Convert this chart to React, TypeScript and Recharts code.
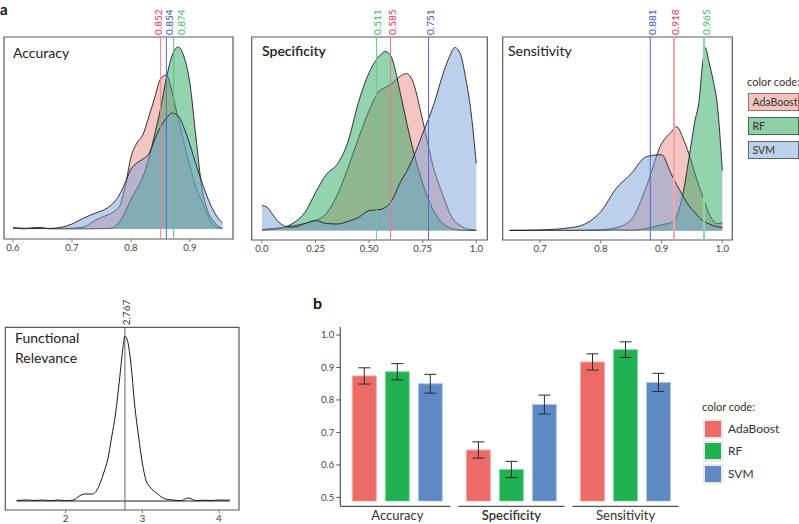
import React from "react";
import {
  AreaChart,
  Area,
  ComposedChart,
  Line,
  BarChart,
  Bar,
  ErrorBar,
  XAxis,
  YAxis,
  ReferenceLine,
  ReferenceArea,
} from "recharts";

const FONT = "Lato, 'Open Sans', sans-serif";
const W = 799;
const H = 524;

// ---- panel a: Accuracy density (arbitrary density units)
const accX = [0.6, 0.62, 0.64, 0.65, 0.66, 0.68, 0.7, 0.72, 0.74, 0.76, 0.77, 0.78, 0.79, 0.8, 0.81, 0.82, 0.83, 0.84, 0.85, 0.86, 0.87, 0.88, 0.89, 0.9, 0.91, 0.92, 0.93, 0.94, 0.95, 0.955];
const accAda = [0.5, 0.4, 0.5, 0.4, 0.5, 0.6, 0.8, 2, 9, 14, 17, 22, 42, 72, 86, 94, 112, 131, 150, 154, 136, 110, 86, 63, 42, 28, 14, 4, 1, 0.5];
const accRf = [0.8, 0.3, 1.5, 1.2, 0.3, 0.2, 0.2, 0.2, 0.3, 0.5, 1.5, 7, 17, 30, 40, 52, 70, 94, 120, 151, 174, 182, 172, 145, 92, 42, 18, 8, 2, 1];
const accSvm = [1.2, 0.8, 0.6, 1, 0.5, 1.5, 5, 11, 16, 21, 26, 34, 46, 60, 66, 70, 75, 89, 102, 111, 116, 113, 101, 84, 65, 47, 31, 18, 9, 6];

// ---- panel a: Specificity density
const specX = [0, 0.025, 0.05, 0.075, 0.1, 0.125, 0.15, 0.2, 0.25, 0.3, 0.35, 0.4, 0.45, 0.5, 0.55, 0.575, 0.6, 0.65, 0.675, 0.7, 0.75, 0.8, 0.85, 0.875, 0.9, 0.925, 0.95, 0.975, 1.0];
const specAda = [1, 1.5, 2, 2.5, 3, 4, 5, 7, 10, 17, 35, 62, 92, 120, 140, 143, 146, 155, 157, 151, 110, 63, 32, 18, 9, 5, 2, 1, 0.5];
const specRf = [0.5, 0.7, 1, 2, 3, 5, 8, 18, 38, 56, 66, 88, 128, 158, 175, 179, 175, 133, 108, 85, 47, 20, 6, 3, 1, 0.5, 0.2, 0.1, 0];
const specSvm = [25, 23, 16, 9, 5, 3.5, 3.5, 7, 10, 7, 6.5, 9, 13, 20, 21, 23, 28, 50, 59, 70, 97, 125, 160, 174, 183, 177, 153, 119, 67];

// ---- panel a: Sensitivity density
const sensX = [0.65, 0.7, 0.75, 0.775, 0.8, 0.825, 0.85, 0.875, 0.9, 0.915, 0.925, 0.935, 0.945, 0.955, 0.962, 0.967, 0.972, 0.978, 0.985, 0.992, 1.0];
const sensAda = [0.3, 0.3, 0.5, 0.7, 1, 3, 11, 44, 87, 98, 104, 93, 77, 57, 44, 36, 27, 17, 10, 7, 8];
const sensRf = [0.3, 0.2, 0.2, 0.3, 0.3, 1, 0.5, 2, 6, 8, 15, 36, 72, 110, 131, 164, 183, 169, 150, 125, 60];
const sensSvm = [0.3, 0.8, 3, 7, 19, 42, 57, 74, 76, 58, 46, 35, 25, 18, 13, 10.5, 8.5, 7, 5, 4, 3];

// ---- Functional Relevance density
const frX = [1.36, 1.5, 1.6, 1.7, 1.8, 1.9, 2.0, 2.1, 2.2, 2.25, 2.35, 2.4, 2.45, 2.5, 2.55, 2.6, 2.65, 2.7, 2.75, 2.77, 2.8, 2.85, 2.9, 2.95, 3.0, 3.05, 3.1, 3.2, 3.3, 3.4, 3.5, 3.6, 3.7, 3.8, 3.9, 4.0, 4.14];
const frDensity = [0.5, 1, 0.5, 1, 0.3, 1, 0.3, 1, 6, 7, 7, 10, 18, 29, 42, 64, 87, 120, 155, 165, 162, 138, 96, 65, 38, 20, 14, 7, 2, 1, 0.3, 3, 0.3, 0.8, 0.5, 1, 0.8];

// mean markers: drawn position, printed value, label nudge (px)
const accMeans = [
  { pos: 0.8503, text: "0.852", line: "#f08088", color: "#e8335c", dx: 1.5 },
  { pos: 0.8599, text: "0.854", line: "#5a6cc8", color: "#3d4fb0", dx: 6.5 },
  { pos: 0.8724, text: "0.874", line: "#5cc07f", color: "#38b864", dx: 11.5 },
];
const specMeans = [
  { pos: 0.534, text: "0.511", line: "#6cc98a", color: "#38b864", dx: 5 },
  { pos: 0.5996, text: "0.585", line: "#f07880", color: "#e8335c", dx: 5.5 },
  { pos: 0.777, text: "0.751", line: "#5a6cc8", color: "#3d4fb0", dx: 5 },
];
const sensMeans = [
  { pos: 0.8815, text: "0.881", line: "#5064c8", color: "#3d4fb0", w: 1, dx: 5.5 },
  { pos: 0.9205, text: "0.918", line: "#f5a6ab", color: "#e8335c", w: 2, dx: 5.5 },
  { pos: 0.9699, text: "0.965", line: "#8fd6a5", color: "#38b864", w: 2, dx: 5.5 },
];
const frMean = { pos: 2.773, text: "2.767" };

// ---- panel b: bar chart
const metrics = ["Accuracy", "Specificity", "Sensitivity"];
const adaMean = [0.874, 0.646, 0.917];
const rfMean = [0.887, 0.586, 0.955];
const svmMean = [0.85, 0.786, 0.854];
const adaErr = [0.025, 0.025, 0.025];
const rfErr = [0.025, 0.025, 0.024];
const svmErr = [0.029, 0.029, 0.028];
const barTicks = [0.5, 0.6, 0.7, 0.8, 0.9, 1.0];

const models = [
  { key: "ada", name: "AdaBoost", swatch: "#f2c4be", border: "#a06c68", bar: "#ec6b66", barEdge: "#f6aaa6" },
  { key: "rf", name: "RF", swatch: "#8fd0a6", border: "#3f6b4f", bar: "#21b153", barEdge: "#84d9a2" },
  { key: "svm", name: "SVM", swatch: "#bdd1ea", border: "#56657a", bar: "#5f89c4", barEdge: "#b0c6e6" },
];

const areaFill: Record<string, { fill: string; op: number }> = {
  ada: { fill: "#e46e66", op: 0.4 },
  rf: { fill: "#2aa85f", op: 0.5 },
  svm: { fill: "#7aa2d8", op: 0.5 },
};

function MeanLabel(props: any) {
  const { viewBox, text, color, dx } = props;
  if (!viewBox) return null;
  const x = viewBox.x + (dx ?? 5);
  const y = viewBox.y - 2;
  return (
    <text transform={`translate(${x},${y}) rotate(-90)`} fill={color} fontSize={10} fontFamily={FONT}>
      {text}
    </text>
  );
}

type Box = { left: number; right: number; top: number; bottom: number };

function DensityPanel({ rows, box, xDomain, yDomain, ticks, tickLabels, means }: any) {
  const b: Box = box;
  return (
    <div style={{ position: "absolute", left: 0, top: 0 }}>
      <AreaChart
        width={W}
        height={H}
        data={rows}
        margin={{ left: b.left, top: b.top, right: W - b.right, bottom: H - b.bottom - 14 }}
      >
        <XAxis
          type="number"
          dataKey="x"
          domain={xDomain}
          allowDataOverflow
          ticks={ticks}
          interval={0}
          tickFormatter={(v: number, i: number) => tickLabels[i]}
          height={14}
          axisLine={false}
          tickSize={3}
          tickLine={{ stroke: "#777" }}
          tick={{ fontSize: 9.5, fill: "#444", fontFamily: FONT }}
        />
        <YAxis hide type="number" domain={yDomain} allowDataOverflow />
        {["ada", "rf", "svm"].map((k) => (
          <Area
            key={k}
            type="monotone"
            dataKey={k}
            baseValue={0}
            fill={areaFill[k].fill}
            fillOpacity={areaFill[k].op}
            stroke="#1e1e1e"
            strokeWidth={0.9}
            isAnimationActive={false}
          />
        ))}
        {means.map((m: any) => (
          <ReferenceLine
            key={m.text}
            x={m.pos}
            stroke={m.line}
            strokeWidth={m.w || 1}
            label={<MeanLabel text={m.text} color={m.color} dx={m.dx} />}
          />
        ))}
        <ReferenceArea
          x1={xDomain[0]}
          x2={xDomain[1]}
          y1={yDomain[0]}
          y2={yDomain[1]}
          fill="none"
          stroke="#5a5a5a"
          strokeWidth={1.2}
        />
      </AreaChart>
    </div>
  );
}

function GroupTick(props: any) {
  const { x, y, payload, index } = props;
  const left = index === 0 ? x - 57 : x - 53;
  return (
    <g>
      {index === 0 && <line x1={x - 57} x2={x - 57} y1={y - 1} y2={y + 5} stroke="#555" strokeWidth={1.2} />}
      <line x1={left} x2={x + 53} y1={y + 5} y2={y + 5} stroke="#555" strokeWidth={1.2} />
      <text
        x={x}
        y={y + 19}
        textAnchor="middle"
        fontSize={13}
        fill="#333"
        fontFamily={FONT}
        fontWeight={payload.value === "Specificity" ? 600 : 400}
      >
        {payload.value}
      </text>
    </g>
  );
}

const abs = (l: number, t: number, extra: React.CSSProperties = {}): React.CSSProperties => ({
  position: "absolute",
  left: l,
  top: t,
  whiteSpace: "nowrap",
  ...extra,
});

export default function App() {
  const accRows = accX.map((x, i) => ({ x, ada: accAda[i], rf: accRf[i], svm: accSvm[i] }));
  const specRows = specX.map((x, i) => ({ x, ada: specAda[i], rf: specRf[i], svm: specSvm[i] }));
  const sensRows = sensX.map((x, i) => ({ x, ada: sensAda[i], rf: sensRf[i], svm: sensSvm[i] }));
  const frRows = frX.map((x, i) => ({ x, d: frDensity[i] }));
  const barRows = metrics.map((m, i) => ({
    metric: m,
    ada: adaMean[i],
    adaErr: adaErr[i],
    rf: rfMean[i],
    rfErr: rfErr[i],
    svm: svmMean[i],
    svmErr: svmErr[i],
  }));
  const errKey: Record<string, string> = { ada: "adaErr", rf: "rfErr", svm: "svmErr" };

  const frBox = { left: 5.3, right: 239, top: 327.3, bottom: 510 };
  const frXDomain = [1.2125, 4.2608];
  const frYDomain = [-9, 173.7];

  return (
    <div
      style={{
        position: "absolute",
        left: 0,
        top: 0,
        width: W,
        height: H,
        background: "#fff",
        overflow: "hidden",
        fontFamily: FONT,
        color: "#333",
      }}
    >
      <DensityPanel
        rows={accRows}
        box={{ left: 4, right: 233, top: 37, bottom: 239 }}
        xDomain={[0.58475, 0.97288]}
        yDomain={[-10, 192]}
        ticks={[0.6, 0.7, 0.8, 0.9]}
        tickLabels={["0.6", "0.7", "0.8", "0.9"]}
        means={accMeans}
      />
      <DensityPanel
        rows={specRows}
        box={{ left: 251.7, right: 487.3, top: 37, bottom: 240 }}
        xDomain={[-0.0481, 1.0514]}
        yDomain={[-9.5, 193.5]}
        ticks={[0, 0.25, 0.5, 0.75, 1.0]}
        tickLabels={["0.0", "0.25", "0.50", "0.75", "1.0"]}
        means={specMeans}
      />
      <DensityPanel
        rows={sensRows}
        box={{ left: 502.7, right: 732.3, top: 37, bottom: 240 }}
        xDomain={[0.6386, 1.01646]}
        yDomain={[-9.3, 193.7]}
        ticks={[0.7, 0.8, 0.9, 1.0]}
        tickLabels={["0.7", "0.8", "0.9", "1.0"]}
        means={sensMeans}
      />

      <div style={{ position: "absolute", left: 0, top: 0 }}>
        <ComposedChart
          width={W}
          height={H}
          data={frRows}
          margin={{ left: frBox.left, top: frBox.top, right: W - frBox.right, bottom: H - frBox.bottom - 14 }}
        >
          <XAxis
            type="number"
            dataKey="x"
            domain={frXDomain}
            allowDataOverflow
            ticks={[2, 3, 4]}
            interval={0}
            height={14}
            axisLine={false}
            tickSize={3}
            tickLine={{ stroke: "#777" }}
            tick={{ fontSize: 10, fill: "#444", fontFamily: FONT }}
          />
          <YAxis hide type="number" domain={frYDomain} allowDataOverflow />
          <ReferenceLine
            segment={[
              { x: frX[0], y: 0 },
              { x: frX[frX.length - 1], y: 0 },
            ]}
            stroke="#222"
            strokeWidth={1}
          />
          <ReferenceLine
            x={frMean.pos}
            stroke="#555"
            strokeWidth={0.9}
            label={<MeanLabel text={frMean.text} color="#333" dx={5.5} />}
          />
          <Line type="monotone" dataKey="d" stroke="#1a1a1a" strokeWidth={1} dot={false} isAnimationActive={false} />
          <ReferenceArea
            x1={frXDomain[0]}
            x2={frXDomain[1]}
            y1={frYDomain[0]}
            y2={frYDomain[1]}
            fill="none"
            stroke="#5a5a5a"
            strokeWidth={1.2}
          />
        </ComposedChart>
      </div>

      <div style={{ position: "absolute", left: 0, top: 0 }}>
        <BarChart
          width={W}
          height={H}
          data={barRows}
          margin={{ left: 310.3, right: 116.4, top: 326.9, bottom: 0.7 }}
          barSize={24}
          barGap={9}
        >
          <XAxis
            dataKey="metric"
            axisLine={false}
            tickLine={false}
            tickSize={0}
            tickMargin={0}
            height={22}
            interval={0}
            tick={<GroupTick />}
          />
          <YAxis
            type="number"
            domain={[0.488, 1.025]}
            allowDataOverflow
            ticks={barTicks}
            interval={0}
            width={30}
            tickFormatter={(v: number) => v.toFixed(1)}
            axisLine={{ stroke: "#555", strokeWidth: 1.2 }}
            tickLine={{ stroke: "#555" }}
            tickSize={4}
            tick={{ fontSize: 9.5, fill: "#444", fontFamily: FONT }}
          />
          {models.map((m) => (
            <Bar
              key={m.key}
              dataKey={m.key}
              fill={m.bar}
              stroke={m.barEdge}
              strokeWidth={1}
              isAnimationActive={false}
            >
              <ErrorBar dataKey={errKey[m.key]} width={6} stroke="#2a2a2a" strokeWidth={1} />
            </Bar>
          ))}
        </BarChart>
      </div>

      {/* panel letters and titles */}
      <div style={abs(0, 0, { fontSize: 15, lineHeight: "18px", fontWeight: 700, color: "#111" })}>a</div>
      <div style={abs(313, 295, { fontSize: 16, lineHeight: "16px", fontWeight: 700, color: "#111" })}>b</div>
      <div style={abs(13, 46, { fontSize: 14, lineHeight: "14px", color: "#222" })}>Accuracy</div>
      <div style={abs(262, 44, { fontSize: 14, lineHeight: "14px", color: "#222", fontWeight: 600 })}>Specificity</div>
      <div style={abs(508, 44, { fontSize: 14, lineHeight: "14px", color: "#222" })}>Sensitivity</div>
      <div style={abs(15, 328, { fontSize: 14, lineHeight: "20px", color: "#222" })}>
        Functional
        <br />
        Relevance
      </div>

      {/* legend, panel a */}
      <div style={abs(747, 76, { fontSize: 11, lineHeight: "12px", color: "#333" })}>color code:</div>
      {models.map((m, i) => (
        <div
          key={m.key}
          style={abs(747.5, [93, 117, 141][i], {
            width: 51,
            height: 18,
            boxSizing: "border-box",
            background: m.swatch,
            border: `1px solid ${m.border}`,
            fontSize: 10.5,
            lineHeight: "16px",
            paddingLeft: 4,
            color: "#333",
          })}
        >
          {m.name}
        </div>
      ))}

      {/* legend, panel b */}
      <div style={abs(702, 401, { fontSize: 11, lineHeight: "12px", color: "#333" })}>color code:</div>
      {models.map((m, i) => {
        const t = [418.5, 441, 463.5][i];
        return (
          <React.Fragment key={m.key}>
            <div style={abs(702.5, t, { width: 20.5, height: 20.5, background: "#e8e8e8" })} />
            <div style={abs(704.75, t + 2.25, { width: 16, height: 16, background: m.bar })} />
            <div style={abs(728, t + 2, { fontSize: 12, lineHeight: "16px", color: "#333" })}>{m.name}</div>
          </React.Fragment>
        );
      })}
    </div>
  );
}
